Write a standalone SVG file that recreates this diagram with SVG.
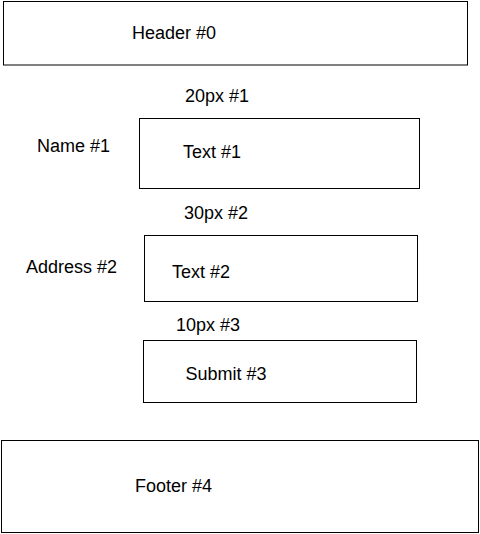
<svg xmlns="http://www.w3.org/2000/svg" width="480" height="534" viewBox="0 0 480 534">
<style>
.box{fill:#fff;stroke:#000;stroke-width:1}
text{font-family:"Liberation Sans",Arial,sans-serif;font-size:18px;fill:#000}
</style>
<rect width="480" height="534" fill="#fff"/>
<g id="connectors"></g>
<g id="header"><rect class="box" x="3.5" y="1.5" width="464" height="63.5"/><text x="132" y="39">Header #0</text></g>
<g id="gap1"><text x="185" y="102">20px #1</text></g>
<g id="name-label"><text x="37" y="152">Name #1</text></g>
<g id="text1"><rect class="box" x="139.5" y="118.5" width="280" height="70"/><text x="183" y="158">Text #1</text></g>
<g id="gap2"><text x="184" y="219">30px #2</text></g>
<g id="address-label"><text x="26" y="273">Address #2</text></g>
<g id="text2"><rect class="box" x="144.5" y="235.5" width="273" height="66"/><text x="172" y="278">Text #2</text></g>
<g id="gap3"><text x="176" y="331">10px #3</text></g>
<g id="submit"><rect class="box" x="143.5" y="340.5" width="273" height="62"/><text x="185.5" y="380">Submit #3</text></g>
<g id="footer"><rect class="box" x="1.5" y="440.5" width="477" height="92"/><text x="135" y="492">Footer #4</text></g>
</svg>
